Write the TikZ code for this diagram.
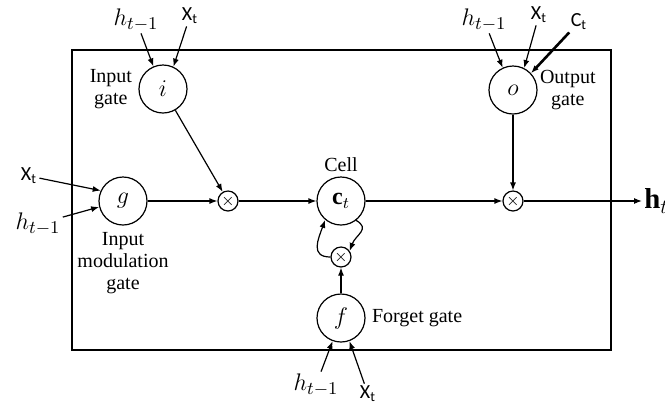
\documentclass[tikz,border=0pt]{standalone}
\usepackage{fontspec}
\setmainfont{Liberation Serif}
\newfontfamily\calibfont{Carlito}
\usepackage{amsmath}
\usetikzlibrary{positioning,arrows.meta}

\begin{document}
\begin{tikzpicture}[x=0.5pt, y=-0.5pt, every node/.style={font=\normalsize}]
  \tikzstyle{gate}=[draw, circle, line width=0.6pt, minimum size=24pt, inner sep=0pt, fill=white, font=\large]
  \tikzstyle{mul}=[draw, circle, line width=0.6pt, minimum size=10pt, inner sep=0pt, fill=white, font=\footnotesize]
  \tikzstyle{lbl}=[inner sep=1pt, align=center, font=\fontsize{10}{11}\selectfont]
  \tikzstyle{hin}=[inner sep=1pt, font=\fontsize{13}{15}\selectfont]
  \tikzstyle{xin}=[inner sep=1pt, font=\calibfont\normalsize]
  \tikzstyle{arr}=[-{Latex[length=4pt, width=3pt]}, line width=0.6pt]
  \useasboundingbox (0,0) rectangle (665,404);
  \draw[line width=0.6pt] (72,50) rectangle (611,350);
  \node[gate] (i) at (163,89) {$i$};
  \node[gate] (g) at (123,201) {$g$};
  \node[gate] (cell) at (341,201) {$\mathbf{c}_t$};
  \node[gate] (o) at (513,90) {$o$};
  \node[gate] (f) at (341,318) {$f$};
  \node[mul] (m1) at (228,201) {$\times$};
  \node[mul] (m2) at (341,257) {$\times$};
  \node[mul] (m3) at (513,201) {$\times$};
  \node[lbl, left=2pt of i] (igate) {Input\\gate};
  \node[lbl, below=2pt of g] (gmod) {Input\\modulation\\gate};
  \node[lbl, above=1pt of cell] (celltxt) {Cell};
  \node[lbl, right=0pt of o] (ogate) {Output\\gate};
  \node[lbl, right=2pt of f] (fgate) {Forget gate};
  \node[hin] (hi) at (136,20) {$h_{t-1}$};
  \node[xin] (xi) at (190,16) {X\textsubscript{t}};
  \node[hin] (ho) at (484,20) {$h_{t-1}$};
  \node[xin] (xo) at (539,15) {X\textsubscript{t}};
  \node[xin] (co) at (579,22) {C\textsubscript{t}};
  \node[xin] (xg) at (29,176) {X\textsubscript{t}};
  \node[hin] (hg) at (38,224) {$h_{t-1}$};
  \node[hin] (hf) at (316,385) {$h_{t-1}$};
  \node[xin] (xf) at (368,394) {X\textsubscript{t}};
  \node[hin, anchor=west, font=\Large] (ht) at (642,201) {$\mathbf{h}_t$};
  \draw[arr] (hi) -- (i.113);
  \draw[arr] (xi) -- (i.65);
  \draw[arr] (ho) -- (o.115);
  \draw[arr] (xo) -- (o.63);
  \draw[arr, line width=1.3pt] (co) -- (o.43);
  \draw[arr] (xg) -- (g.155);
  \draw[arr] (hg) -- (g.194);
  \draw[arr] (hf) -- (f.250);
  \draw[arr] (xf) -- (f.290);
  \draw[arr] (g) -- (m1);
  \draw[arr] (i) -- (m1);
  \draw[arr] (m1) -- (cell);
  \draw[arr] (cell) -- (m3);
  \draw[arr] (o) -- (m3);
  \draw[arr] (m3) -- (ht);
  \draw[arr] (f) -- (m2);
  \draw[arr] (m2.west) to[out=180, in=250, looseness=1.4] (cell.230);
  \draw[arr] (cell.-52) to[out=-30, in=70, looseness=1.4] (m2.35);
\end{tikzpicture}
\end{document}
